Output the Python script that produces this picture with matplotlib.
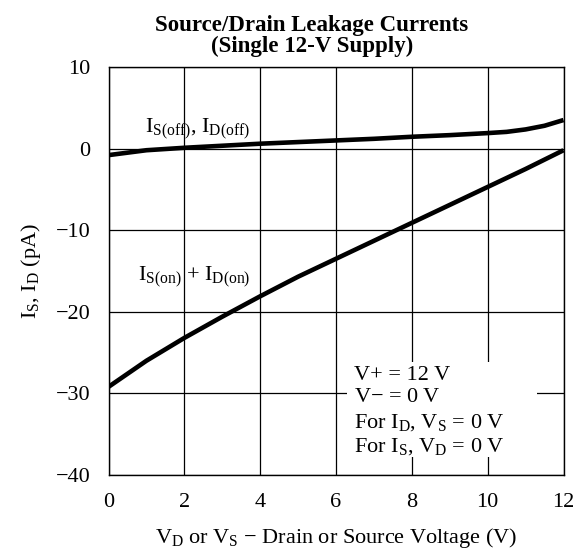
import matplotlib
matplotlib.use('Agg')
import matplotlib.pyplot as plt
from matplotlib.patches import Rectangle

plt.rcParams['font.family'] = ['Liberation Serif', 'DejaVu Serif']
plt.rcParams['mathtext.fontset'] = 'custom'
plt.rcParams['mathtext.rm'] = 'Liberation Serif'
plt.rcParams['mathtext.it'] = 'Liberation Serif:italic'
plt.rcParams['axes.unicode_minus'] = True

# Values
voltage = [0, 1, 2, 3, 4, 5, 6, 7, 8, 9, 10, 10.5, 11, 11.5, 12]
i_off = [-0.8, -0.2, 0.1, 0.35, 0.6, 0.8, 1.0, 1.2, 1.45, 1.65, 1.9, 2.05, 2.35, 2.8, 3.5]
i_on = [-29.2, -26.0, -23.2, -20.6, -18.1, -15.7, -13.5, -11.3, -9.1, -6.9, -4.7,
        -3.6, -2.5, -1.35, -0.2]

x_ticks = [0, 2, 4, 6, 8, 10, 12]
y_ticks = [-40, -30, -20, -10, 0, 10]

note_lines = ['V+ = 12 V',
              r'V$-$ = 0 V',
              r'For $\mathrm{I_D}$, $\mathrm{V_S}$ = 0 V',
              r'For $\mathrm{I_S}$, $\mathrm{V_D}$ = 0 V']
note_baselines = [-28.4, -31.1, -34.2, -37.1]

fig = plt.figure(figsize=(5.85, 5.56), dpi=100)
ax = fig.add_axes([108.5 / 585, 1 - 475 / 556, 455 / 585, 408 / 556])

ax.plot(voltage, i_off, color='black', lw=3.3, solid_capstyle='butt', zorder=3)
ax.plot(voltage, i_on, color='black', lw=3.3, solid_capstyle='butt', zorder=3)

ax.set_xlim(0, 12)
ax.set_ylim(-40, 10)
ax.set_xticks(x_ticks)
ax.set_yticks(y_ticks)
ax.grid(True, color='black', lw=0.9)
ax.set_axisbelow(True)
ax.tick_params(length=0, labelsize=16, pad=13)
for s in ax.spines.values():
    s.set_linewidth(1.0)

# title sits a bit left of the axes centre in the original
fig.text(312 / 585, 1 - 15 / 556, 'Source/Drain Leakage Currents\n(Single 12-V Supply)',
         fontsize=16.5, fontweight='bold', linespacing=1.0, ha='center', va='top')
ax.set_xlabel(r'$\mathrm{V_D}$ or $\mathrm{V_S}$ $-$ Drain or Source Voltage (V)',
              fontsize=16, labelpad=10)
ax.set_ylabel(r'$\mathrm{I_S}$, $\mathrm{I_D}$ (pA)', fontsize=16, labelpad=9)

ax.text(0.96, 1.95, r'$\mathrm{I_{S(off)}}$, $\mathrm{I_{D(off)}}$', fontsize=16,
        va='baseline', ha='left', zorder=4)
ax.text(0.78, -16.2, r'$\mathrm{I_{S(on)}}$ + $\mathrm{I_{D(on)}}$', fontsize=16,
        va='baseline', ha='left', zorder=4)

# white patch behind the note, cutting the grid lines
ax.add_patch(Rectangle((6.3, -37.8), 5.0, 11.7, facecolor='white',
                       edgecolor='none', zorder=2))
for line, yb in zip(note_lines, note_baselines):
    ax.text(6.48, yb, line, fontsize=16, va='baseline', ha='left', zorder=4)

fig.savefig('out.png', dpi=100)
